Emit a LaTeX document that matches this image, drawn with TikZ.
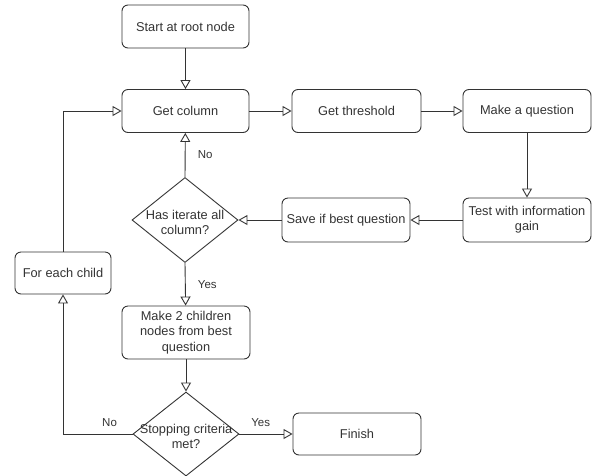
\documentclass[tikz,border=0pt]{standalone}
\usepackage{fontspec}
\setmainfont{Liberation Sans}
\usetikzlibrary{arrows.meta,shapes.geometric}
\definecolor{ink}{HTML}{333333}
\begin{document}
\begin{tikzpicture}[x=1pt,y=-1pt,
  box/.style={draw=ink, rounded corners=6pt, line width=0.9pt, inner sep=0pt,
    align=center, text=ink, font=\fontsize{12.8}{15.3}\selectfont},
  dia/.style={draw=ink, diamond, line width=0.9pt, inner sep=0pt},
  dtext/.style={align=center, text=ink, inner sep=0pt, yshift=-2.5pt, font=\fontsize{12.8}{15.3}\selectfont},
  arr/.style={draw=ink, line width=0.9pt, -{Triangle[open,length=9pt,width=10pt]}},
  lbl/.style={text=ink, inner sep=0pt, font=\fontsize{11.5}{13}\selectfont}]
\useasboundingbox (0,0) rectangle (592,475);
\node[box, minimum width=127pt, minimum height=43pt] (start) at (185.5,26.5) {Start at root node};
\node[box, minimum width=127pt, minimum height=43pt] (getcol) at (185.5,111) {Get column};
\node[box, minimum width=129pt, minimum height=43pt] (thresh) at (356.5,111) {Get threshold};
\node[box, minimum width=128pt, minimum height=43pt] (makeq) at (527,111) {Make a question};
\node[box, minimum width=128pt, minimum height=44pt] (test) at (527,220) {Test with information\\gain};
\node[box, minimum width=128pt, minimum height=44pt] (save) at (346,220) {Save if best question};
\node[dia, minimum width=106pt, minimum height=85pt] (d1) at (185,220) {};
\node[dtext] (d1t) at (d1.center) {Has iterate all\\column?};
\node[box, minimum width=96pt, minimum height=42pt] (foreach) at (63,273) {For each child};
\node[box, minimum width=128pt, minimum height=53pt] (make2) at (186,332.5) {Make 2 children\\nodes from best\\question};
\node[dia, minimum width=106pt, minimum height=84pt] (d2) at (186,434) {};
\node[dtext] (d2t) at (d2.center) {Stopping criteria\\met?};
\node[box, minimum width=128pt, minimum height=42pt] (finish) at (357,434) {Finish};

\draw[arr] (start) -- (getcol);
\draw[arr] (getcol) -- (thresh);
\draw[arr] (thresh) -- (makeq);
\draw[arr] (makeq) -- (test);
\draw[arr] (test) -- (save);
\draw[arr] (save) -- (d1.east);
\draw[arr] (d1.north) -- node[lbl, xshift=20pt] (lno1) {No} (getcol);
\draw[arr] (d1.south) -- node[lbl, xshift=22pt] (lyes1) {Yes} (make2);
\draw[arr] (make2) -- (d2.north);
\draw[arr] (d2.east) -- node[lbl, pos=0.4, yshift=11pt] (lyes2) {Yes} (finish);
\draw[arr] (d2.west) -| node[lbl, pos=0.165, yshift=11pt] (lno2) {No} (foreach.south);
\draw[arr] (foreach.north) |- (getcol.west);
\end{tikzpicture}
\end{document}
